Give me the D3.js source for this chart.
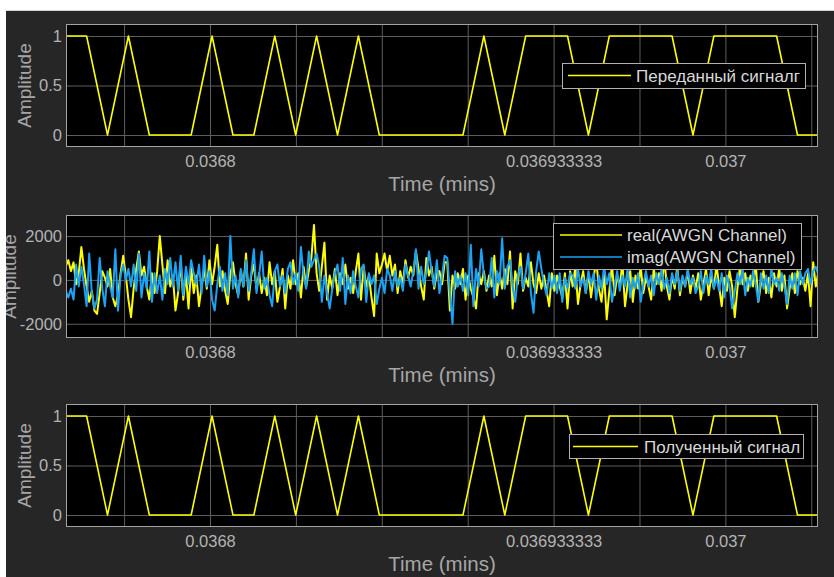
<!DOCTYPE html>
<html>
<head>
<meta charset="utf-8">
<script src="https://cdn.jsdelivr.net/npm/d3@7"></script>
<style>
  html, body { margin: 0; padding: 0; background: #ffffff; }
  svg { display: block; font-family: "Liberation Sans", Arial, sans-serif; }
</style>
</head>
<body>
<svg id="scope"></svg>
<script>
// transmitted / received bits, one sample per bit period
const bitValues = [1, 1, 0, 1, 0, 0, 0, 1, 0, 0, 1, 0, 1, 0, 1, 0, 0, 0, 0, 0,
  1, 0, 1, 1, 1, 0, 1, 1, 1, 1, 0, 1, 1, 1, 1, 0, 0];
const bitStart = 0.036744;      // mins, time of first visible sample
const bitPeriod = 0.000008114;  // mins
const noiseSamplesPerBit = 8;

// AWGN channel output (real and imaginary parts)
const realNoise = [
  600, 900, 400, 800, -200, 300, 1500, 500, -300, -1000, -500, -1400, -1550, -600, 400, 100, -300, 500, -800, -1200,
  -700, 300, 1100, 200, -900, -1700, -400, 500, 1300, 200, 600, -300, -900, 300, -600, 400, 2000, 700, -600, 900,
  -300, 200, -1400, -600, 800, -900, 300, -1300, 600,
  -600, 200, -1200, -300, 500, -400, 900, -200, 600, 1600, -300, 400, -500, -1100, 300, 800, -200, -700, 400, -300,
  1200, -900, 200, 700, -400, 300, -600, 100, -700, 800, -200, 400, -1000, -300, 500, -1300, 200, -400, 900, -200,
  300, -800, 600, -300, 400, 1000, 2500, 300,
  -500, 600, 1700, -900, 200, -400, 500, -700, 300, -200, 700, -400, 100, -600, 400, 1200, -900, 600, -300, 200,
  -800, -1650, 1200, 300, 700, 1200, 400, 1100, 200, 700, -600, 400, -200, 900, 100, 600, 200, 1300, 500, -300,
  -900, 1000, 200, 600, -400, 300, 400, -200, 800,
  800, -1400, 200, -400, 300, -200, 500, -900, 200, -400, -800, -1300, 300, -200, 400, -500, 200, -300, 1100, -700,
  300, -400, 500, -200, 1300, -1300, 400, -200, 1200, -500, 100, -300, 800, -200, -600, 300, -400, 200, -500, -1200,
  300, -500, 200, -300, -800, 300, -1300, 400,
  -300, 600, -1100, -200, 400, -600, 300, -800, 100, 900, -400, -1000, 300, -1800, -500, 700, -700, 200, -300, 800,
  -1200, -200, 400, -1000, 200, -400, 600, -600, 100, -300, -900, 500, -200, 300, -500, 1000, -300, -900, 200, -400,
  600, -700, 100, -300, 400, -600, 200, -400,
  300, -900, -200, 500, -700, 200, -400, 700, -300, -1200, 100, -500, 400, -300, -1700, -400, 600, -200, 300, -500,
  200, -300, 800, -1000, -200, 400, -600, 100, -800, 300, -300, 500, -500, 200, -1300, -400, 300, -600, 400, -200,
  100, -500, 300, -1200, 800, -300, 400
];
const imagNoise = [
  -500, -800, -400, -900, 700, -300, 600, -200, -1200, 1200, -600, -1300, -900, 1000, -400, -1200, 400, -300, -800, 1400,
  -1400, 200, 700, 0, 500, -300, 700, -500, 1200, -800, 300, -400, 1300, -1000, 300, -600, 200, -900, 500, -200,
  1000, -300, 800, -500, 1100, -700, 600, -200, 900,
  300, -200, 700, -600, 1100, -300, 400, -900, -1400, -200, 600, -500, 300, -700, 2000, -400, 200, -800, 500, -300,
  900, -500, 300, 1400, -600, 200, 1300, -400, 100, -700, -1200, 400, 700, -300, 200, -600, 500, 800, -200, 300,
  -500, 1500, 200, -400, 1300, 600, 900, 1200,
  600, -1000, 200, -600, -1300, -400, 300, 700, -500, 1000, -1100, 200, -600, 400, -300, -800, 500, 700, -1000, 300,
  -200, 200, -1100, -400, 100, -600, 500, 200, -500, 400, -300, 100, -500, 700, 200, -300, 400, 1400, -400, 600,
  -200, 300, 1300, 400, -300, 900, -600, 200, 1100,
  1000, -600, -2000, 400, -300, 200, -500, 300, -700, 1600, -1200, 500, -300, 1400, 200, -400, -300, 1000, -800, 400,
  -200, 1900, -400, 600, 900, -300, -1000, 200, 600, -400, 300, 1200, -600, -1500, 400, 1300, 500, -200, -700, 300,
  -400, 200, -600, 300, -1000, 100, -400, 300,
  200, -400, 500, -300, 100, -600, 400, -200, 300, -900, 200, -400, 600, -200, 300, -1000, -300, 400, -500, 200,
  -300, 500, -800, 100, -400, 300, -1000, -200, 400, -300, 200, -700, 300, -200, 500, -400, 100, -600, 300, -200,
  400, -500, 200, -300, 500, -200, 100, -600,
  -300, 400, -600, 200, -200, 500, -400, 100, -500, 300, -800, 200, -300, -1300, -500, 300, -200, 500, -700, 100,
  -300, 400, -200, -1000, 300, -400, 200, -600, 500, -200, 100, -500, 300, -300, -1100, 200, -400, 300, -700, 400,
  -200, 300, 500, -200, 400, 600, 200
];

// time axis: grid positions and the few labelled ones
const gridTimes = [0.036766667, 0.0368, 0.036833333, 0.036866667, 0.0369,
  0.036933333, 0.036966667, 0.037, 0.037033333];
const labelTimes = [0.0368, 0.036933333, 0.037];
const labelTexts = ["0.0368", "0.036933333", "0.037"];
const timeDomain = [0.03674412, 0.03703594];

const ampTicks = [0, 0.5, 1];
const ampTickTexts = ["0", "0.5", "1"];
const noiseTicks = [-2000, 0, 2000];
const noiseTickTexts = ["-2000", "0", "2000"];

const yellow = "#ffff00";
const blue = "#1aa3f5";

const width = 834, height = 577;
const plotLeft = 66, plotRight = 818, plotH = 123;

const svg = d3.select("#scope").attr("width", width).attr("height", height);

// figure background
svg.append("rect").attr("x", 6).attr("y", 11).attr("width", width - 6).attr("height", height - 11)
  .attr("fill", "#262626");
svg.append("line").attr("x1", 0).attr("x2", width).attr("y1", 10.5).attr("y2", 10.5)
  .attr("stroke", "#d4d4d4");

const x = d3.scaleLinear().domain(timeDomain).range([plotLeft, plotRight]);

const signalData = bitValues.map((v, i) => ({ t: bitStart + i * bitPeriod, v: v }));
const noiseStep = bitPeriod / noiseSamplesPerBit;
const realData = realNoise.map((v, i) => ({ t: bitStart + i * noiseStep, v: v }));
const imagData = imagNoise.map((v, i) => ({ t: bitStart + i * noiseStep, v: v }));

const timeLabel = (t) => {
  const k = labelTimes.findIndex((l) => Math.abs(l - t) < 1e-9);
  return k < 0 ? "" : labelTexts[k];
};

const drawPanel = (id, top, yDomain, yTicks, yTexts, series, legend, ylabelX) => {
  const g = svg.append("g");
  const y = d3.scaleLinear().domain(yDomain).range([top + plotH, top]);

  g.append("rect").attr("x", plotLeft).attr("y", top).attr("width", plotRight - plotLeft)
    .attr("height", plotH).attr("fill", "#000000");

  // x grid + tick labels
  const xAxis = d3.axisBottom(x).tickValues(gridTimes).tickSize(-plotH).tickSizeOuter(0)
    .tickPadding(8).tickFormat(timeLabel);
  const xg = g.append("g").attr("transform", `translate(0,${top + plotH})`).call(xAxis);
  xg.select(".domain").remove();
  xg.selectAll("line").attr("stroke", "#5e5e5e");
  xg.selectAll("text").attr("fill", "#b3b3b3").attr("font-size", 16.5)
    .attr("font-family", "Liberation Sans, Arial, sans-serif");

  // y grid + tick labels
  const yAxis = d3.axisLeft(y).tickValues(yTicks).tickSize(-(plotRight - plotLeft)).tickSizeOuter(0)
    .tickPadding(4).tickFormat((d, i) => yTexts[i]);
  const yg = g.append("g").attr("transform", `translate(${plotLeft},0)`).call(yAxis);
  yg.select(".domain").remove();
  yg.selectAll("line").attr("stroke", "#5e5e5e");
  yg.selectAll("text").attr("fill", "#b3b3b3").attr("font-size", 16.5)
    .attr("font-family", "Liberation Sans, Arial, sans-serif");

  // traces
  g.append("clipPath").attr("id", "clip" + id).append("rect")
    .attr("x", plotLeft).attr("y", top).attr("width", plotRight - plotLeft).attr("height", plotH);
  const line = d3.line().x((d) => x(d.t)).y((d) => y(d.v));
  series.forEach((s) => {
    g.append("path").datum(s.data).attr("clip-path", `url(#clip${id})`)
      .attr("d", line).attr("fill", "none").attr("stroke", s.color)
      .attr("stroke-width", s.width).attr("stroke-linejoin", "round");
  });

  // axes box
  g.append("rect").attr("x", plotLeft + 0.5).attr("y", top + 0.5)
    .attr("width", plotRight - plotLeft - 1).attr("height", plotH - 1)
    .attr("fill", "none").attr("stroke", "#a3a3a3");

  // legend
  const lg = g.append("g");
  lg.append("rect").attr("x", legend.x + 0.5).attr("y", legend.y + 0.5)
    .attr("width", legend.w).attr("height", legend.h)
    .attr("fill", "#000000").attr("stroke", "#b0b0b0");
  series.forEach((s, i) => {
    const ry = legend.rowY[i];
    lg.append("line").attr("x1", legend.lineX1).attr("x2", legend.lineX2)
      .attr("y1", ry).attr("y2", ry).attr("stroke", s.color).attr("stroke-width", 1.6);
    lg.append("text").attr("x", legend.textX).attr("y", ry).attr("dy", "0.36em")
      .attr("fill", "#d9d9d9").attr("font-size", 17).text(s.name);
  });

  // axis titles
  g.append("text").attr("x", (plotLeft + plotRight) / 2).attr("y", top + plotH + 44)
    .attr("text-anchor", "middle").attr("fill", "#a6a6a6").attr("font-size", 20.5)
    .text("Time (mins)");
  g.append("text").attr("transform", `translate(${ylabelX},${top + plotH / 2}) rotate(-90)`)
    .attr("text-anchor", "middle").attr("fill", "#a6a6a6").attr("font-size", 19)
    .text("Amplitude");
};

drawPanel("tx", 24, [-0.121, 1.121], ampTicks, ampTickTexts,
  [{ name: "Переданный сигналг", data: signalData, color: yellow, width: 1.6 }],
  { x: 562, y: 63, w: 243, h: 25, lineX1: 568, lineX2: 631, textX: 636, rowY: [75.5] }, 31);

drawPanel("ch", 215, [-2650, 2960], noiseTicks, noiseTickTexts,
  [{ name: "real(AWGN Channel)", data: realData, color: yellow, width: 2 },
   { name: "imag(AWGN Channel)", data: imagData, color: blue, width: 2 }],
  { x: 553, y: 223, w: 248, h: 46, lineX1: 560, lineX2: 622, textX: 627, rowY: [235, 257] }, 16);

drawPanel("rx", 404, [-0.121, 1.121], ampTicks, ampTickTexts,
  [{ name: "Полученный сигнал", data: signalData, color: yellow, width: 1.6 }],
  { x: 569, y: 434, w: 234, h: 24, lineX1: 573, lineX2: 638, textX: 644, rowY: [446.5] }, 31);

// white page strip on the left edge that cuts the middle axis title
svg.append("rect").attr("x", 0).attr("y", 0).attr("width", 6).attr("height", height).attr("fill", "#ffffff");
</script>
</body>
</html>
